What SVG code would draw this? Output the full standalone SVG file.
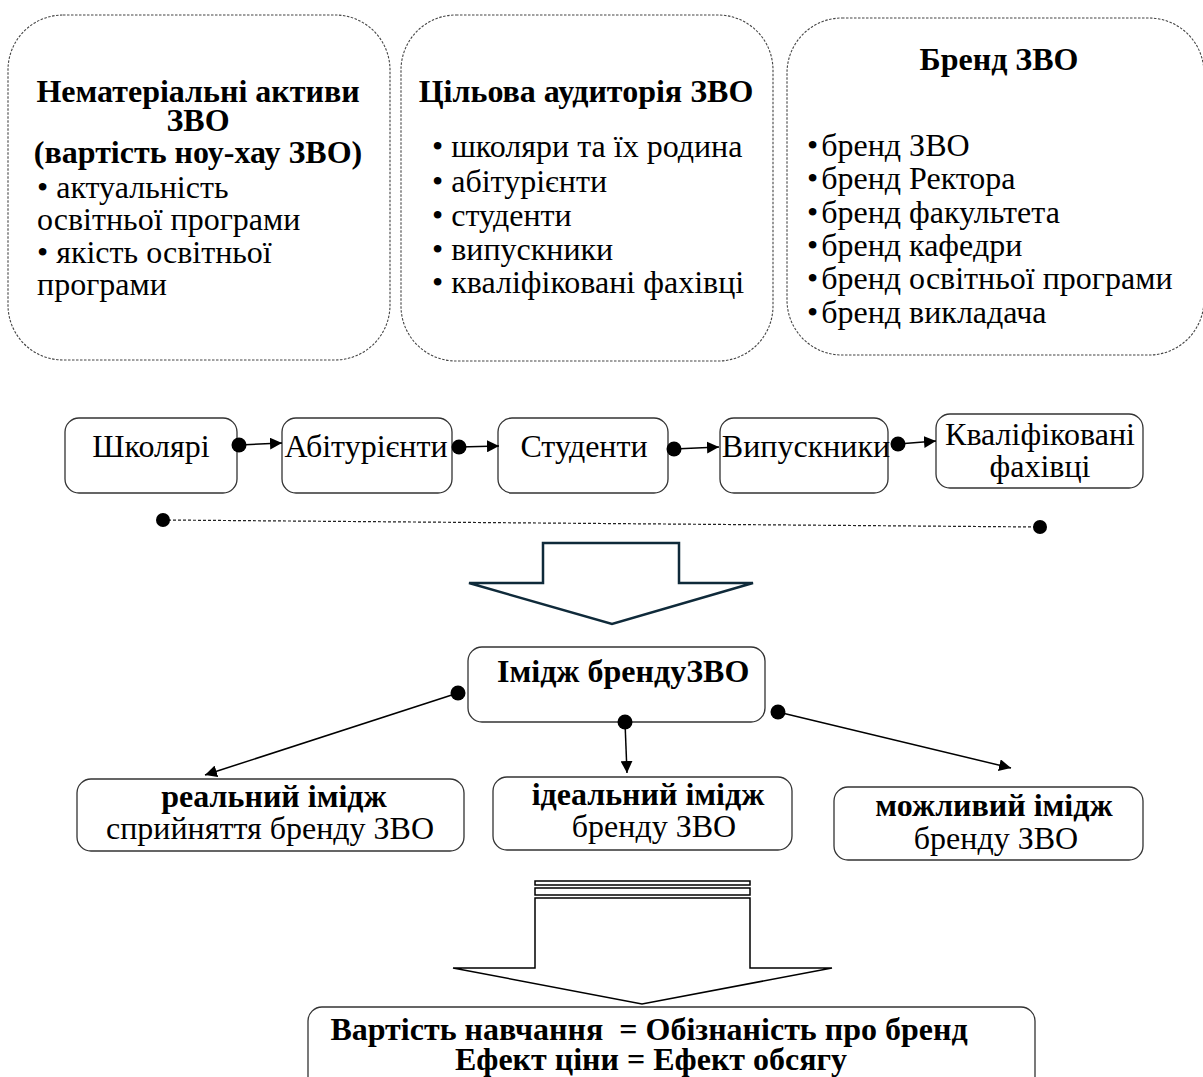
<svg xmlns="http://www.w3.org/2000/svg" width="1203" height="1077" viewBox="0 0 1203 1077">
<style>
text{font-family:"Liberation Serif","Times New Roman",serif;font-size:32px;fill:#000}
.b{font-weight:bold}
.m{text-anchor:middle}
.dash{fill:#fff;stroke:#444;stroke-width:1.1;stroke-dasharray:2.5 1.5}
.box{fill:#fff;stroke:#333;stroke-width:1.3}
.con{stroke:#000;stroke-width:1.5;fill:none}
.dot{fill:#000}
.big{fill:#fff;stroke:#0f2a3a;stroke-width:2.5}
.big2{fill:#fff;stroke:#000;stroke-width:1.5}
</style>
<defs>
<marker id="ah" viewBox="0 0 12 12" refX="12" refY="6" markerWidth="12" markerHeight="12" markerUnits="userSpaceOnUse" orient="auto">
<path d="M0,0 L12,6 L0,12 Z" fill="#000"/>
</marker>
</defs>
<rect width="1203" height="1077" fill="#fff"/>

<g id="assets">
<rect class="dash" x="8" y="15" width="382" height="345" rx="55"/>
<text class="b m" x="198" y="102">Нематеріальні активи</text>
<text class="b m" x="198" y="131">ЗВО</text>
<text class="b m" x="198" y="163">(вартість ноу-хау ЗВО)</text>
<text x="37" y="198">• актуальність</text>
<text x="37" y="230">освітньої програми</text>
<text x="37" y="263">• якість освітньої</text>
<text x="37" y="295">програми</text>
</g>

<g id="audience">
<rect class="dash" x="401" y="15" width="372" height="346" rx="55"/>
<text class="b m" x="586" y="102">Цільова аудиторія ЗВО</text>
<text x="432" y="157">• школяри та їх родина</text>
<text x="432" y="192">• абітурієнти</text>
<text x="432" y="226">• студенти</text>
<text x="432" y="260">• випускники</text>
<text x="432" y="293">• кваліфіковані фахівці</text>
</g>

<g id="brand">
<rect class="dash" x="787" y="18" width="417" height="337" rx="55"/>
<text class="b m" x="999" y="70">Бренд ЗВО</text>
<text x="807" y="156">•<tspan dx="3">бренд ЗВО</tspan></text>
<text x="807" y="189">•<tspan dx="3">бренд Ректора</tspan></text>
<text x="807" y="223">•<tspan dx="3">бренд факультета</tspan></text>
<text x="807" y="256">•<tspan dx="3">бренд кафедри</tspan></text>
<text x="807" y="289">•<tspan dx="3">бренд освітньої програми</tspan></text>
<text x="807" y="323">•<tspan dx="3">бренд викладача</tspan></text>
</g>

<g id="n-shkoliari">
<rect class="box" x="65" y="418" width="172" height="75" rx="14"/>
<text class="m" x="151" y="457">Школярі</text>
</g>
<g id="n-abiturienty">
<rect class="box" x="282" y="418" width="170" height="75" rx="14"/>
<text class="m" x="366" y="457">Абітурієнти</text>
</g>
<g id="n-studenty">
<rect class="box" x="498" y="418" width="170" height="75" rx="14"/>
<text class="m" x="584" y="457">Студенти</text>
</g>
<g id="n-vypusknyky">
<rect class="box" x="720" y="418" width="168" height="75" rx="14"/>
<text class="m" x="806" y="457">Випускники</text>
</g>
<g id="n-fakhivtsi">
<rect class="box" x="936" y="414" width="207" height="74" rx="14"/>
<text class="m" x="1040" y="445">Кваліфіковані</text>
<text class="m" x="1040" y="477">фахівці</text>
</g>

<g id="arrow1">
<polygon class="big" points="543,543 679,543 679,583 753,583 612,624 469,583 543,583"/>
</g>

<g id="n-imidzh">
<rect class="box" x="468" y="647" width="297" height="75" rx="14"/>
<text class="b" x="497" y="682">Імідж брендуЗВО</text>
</g>

<g id="n-realnyi">
<rect class="box" x="77" y="779" width="387" height="72" rx="14"/>
<text class="b m" x="274" y="807">реальний імідж</text>
<text class="m" x="270" y="839">сприйняття бренду ЗВО</text>
</g>
<g id="n-idealnyi">
<rect class="box" x="493" y="777" width="299" height="73" rx="14"/>
<text class="b m" x="648" y="805">ідеальний імідж</text>
<text class="m" x="654" y="837">бренду ЗВО</text>
</g>
<g id="n-mozhlyvyi">
<rect class="box" x="834" y="787" width="309" height="73" rx="14"/>
<text class="b m" x="994" y="816">можливий імідж</text>
<text class="m" x="996" y="849">бренду ЗВО</text>
</g>

<g id="arrow2">
<rect class="big2" x="535" y="881" width="215" height="4"/>
<rect class="big2" x="535" y="888" width="215" height="7"/>
<polygon class="big2" points="535,898 750,898 750,968 832,968 642,1004 453,968 535,968"/>
</g>

<g id="n-result">
<rect class="box" x="308" y="1007" width="727" height="100" rx="14"/>
<text class="b m" x="649" y="1040" xml:space="preserve">Вартість навчання  = Обізнаність про бренд</text>
<text class="b m" x="651" y="1070">Ефект ціни = Ефект обсягу</text>
</g>

<g id="connectors">
<line class="con" x1="239" y1="445" x2="282" y2="443" marker-end="url(#ah)"/>
<circle class="dot" cx="239" cy="445" r="7.5"/>
<line class="con" x1="459" y1="447" x2="499" y2="446" marker-end="url(#ah)"/>
<circle class="dot" cx="459" cy="447" r="7.5"/>
<line class="con" x1="674" y1="449" x2="719" y2="447" marker-end="url(#ah)"/>
<circle class="dot" cx="674" cy="449" r="7.5"/>
<line class="con" x1="898" y1="444" x2="936" y2="441" marker-end="url(#ah)"/>
<circle class="dot" cx="898" cy="444" r="7.5"/>
<line x1="163" y1="520" x2="1040" y2="527" stroke="#222" stroke-width="1.2" stroke-dasharray="3 2"/>
<circle class="dot" cx="163" cy="520" r="7"/>
<circle class="dot" cx="1040" cy="527" r="7"/>
<line class="con" x1="458" y1="693" x2="205" y2="775" marker-end="url(#ah)"/>
<circle class="dot" cx="458" cy="693" r="7.5"/>
<line class="con" x1="625" y1="722" x2="627" y2="773" marker-end="url(#ah)"/>
<circle class="dot" cx="625" cy="722" r="7.5"/>
<line class="con" x1="778" y1="712" x2="1011" y2="768" marker-end="url(#ah)"/>
<circle class="dot" cx="778" cy="712" r="7.5"/>
</g>
</svg>
